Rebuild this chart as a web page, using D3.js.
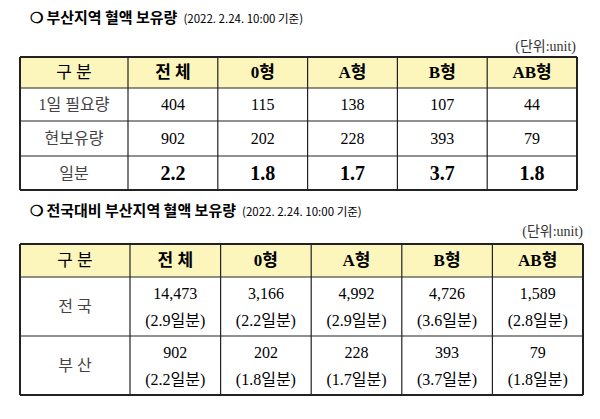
<!DOCTYPE html>
<html><head><meta charset="utf-8">
<script src="https://cdn.jsdelivr.net/npm/d3@7"></script>
<style>body{margin:0;background:#fff}</style>
</head><body><svg id="c" width="600" height="419"></svg>
<script>
let cols = ['전 체', '0형', 'A형', 'B형', 'AB형'];
let t1Rows = ['1일 필요량', '현보유량', '일분'];
let t1Need = [404, 115, 138, 107, 44];
let t1Stock = [902, 202, 228, 393, 79];
let t1Days = [2.2, 1.8, 1.7, 3.7, 1.8];
let t2Rows = ['전 국', '부 산'];
let t2Nation = [14473, 3166, 4992, 4726, 1589];
let t2NationDays = [2.9, 2.2, 2.9, 3.6, 2.8];
let t2Busan = [902, 202, 228, 393, 79];
let t2BusanDays = [2.2, 1.8, 1.7, 3.7, 1.8];

let svg = d3.select('#c');
let serif = '"Liberation Serif","Noto Sans CJK KR",serif';
let fmt = d3.format(',');

function table(cfg) {
    let g = svg.append('g');
    let x = d3.scaleBand().domain(d3.range(cols.length)).range([cfg.x1, cfg.x2]);
    let ys = [cfg.y0];
    cfg.rowH.forEach(h => ys.push(ys[ys.length - 1] + h));

    g.append('rect').attr('x', cfg.x0).attr('y', ys[0]).attr('width', cfg.x2 - cfg.x0)
        .attr('height', ys[1] - ys[0]).attr('fill', '#fcf6bd');

    // header
    g.append('text').attr('x', (cfg.x0 + cfg.x1) / 2).attr('y', (ys[0] + ys[1]) / 2)
        .text('구 분');
    g.selectAll('.h').data(cols).enter().append('text')
        .attr('x', (d, i) => x(i) + x.bandwidth() / 2).attr('y', (ys[0] + ys[1]) / 2)
        .attr('font-weight', 'bold').text(d => d);
    g.selectAll('text').attr('font-size', 17).attr('font-family', serif)
        .attr('text-anchor', 'middle').attr('dominant-baseline', 'central');

    cfg.rows.forEach((r, ri) => {
        let cy = (ys[ri + 1] + ys[ri + 2]) / 2;
        g.append('text').attr('x', (cfg.x0 + cfg.x1) / 2).attr('y', cy)
            .attr('font-family', serif).attr('font-size', 16).attr('fill', '#444')
            .attr('text-anchor', 'middle').attr('dominant-baseline', 'central').text(r.label);
        r.lines.forEach((ln, li) => {
            let off = r.lines.length > 1 ? (li - 0.5) * 27 : 0;
            g.selectAll(null).data(ln.values).enter().append('text')
                .attr('x', (d, i) => x(i) + x.bandwidth() / 2).attr('y', cy + off)
                .attr('font-family', serif).attr('font-size', ln.size || 16)
                .attr('font-weight', ln.bold ? 'bold' : 'normal')
                .attr('text-anchor', 'middle').attr('dominant-baseline', 'central')
                .text(ln.f);
        });
    });

    let stroke = '#222';
    ys.forEach((yy, i) => g.append('line').attr('x1', cfg.x0).attr('x2', cfg.x2)
        .attr('y1', yy).attr('y2', yy).attr('stroke', stroke)
        .attr('stroke-width', (i === 0 || i === ys.length - 1) ? 2 : 1.2));
    let xs = [cfg.x0].concat(d3.range(cols.length).map(i => x(i)), [cfg.x2]);
    xs.forEach((xx, i) => g.append('line').attr('x1', xx).attr('x2', xx)
        .attr('y1', ys[0]).attr('y2', ys[ys.length - 1]).attr('stroke', stroke)
        .attr('stroke-width', (i === 0 || i === xs.length - 1) ? 2 : 1.2));
}

function title(yy, main, x2, unitY) {
    let t = svg.append('text').attr('x', 30).attr('y', yy).attr('font-family', '"Noto Sans CJK KR",sans-serif');
    t.append('tspan').attr('font-size', 15).attr('font-weight', 'bold').text('❍ ' + main);
    t.append('tspan').attr('font-size', 11.5).attr('dx', 6).text('(2022. 2.24. 10:00 기준)');
    svg.append('text').attr('x', x2).attr('y', unitY).attr('text-anchor', 'end')
        .attr('font-family', serif).attr('font-size', 14).attr('fill', '#333').text('(단위:unit)');
}

title(23, '부산지역 혈액 보유량', 576, 51);
table({
    x0: 20, x1: 128, x2: 577, y0: 57, rowH: [31, 33, 35, 34],
    rows: [
        {label: t1Rows[0], lines: [{values: t1Need, f: d => d}]},
        {label: t1Rows[1], lines: [{values: t1Stock, f: d => d}]},
        {label: t1Rows[2], lines: [{values: t1Days, f: d => d.toFixed(1), bold: true, size: 20}]}
    ]
});

title(216, '전국대비 부산지역 혈액 보유량', 583, 236);
table({
    x0: 20, x1: 130, x2: 583, y0: 244, rowH: [33, 59, 59],
    rows: [
        {label: t2Rows[0], lines: [{values: t2Nation, f: fmt}, {values: t2NationDays, f: d => '(' + d.toFixed(1) + '일분)'}]},
        {label: t2Rows[1], lines: [{values: t2Busan, f: fmt}, {values: t2BusanDays, f: d => '(' + d.toFixed(1) + '일분)'}]}
    ]
});
</script></body></html>
